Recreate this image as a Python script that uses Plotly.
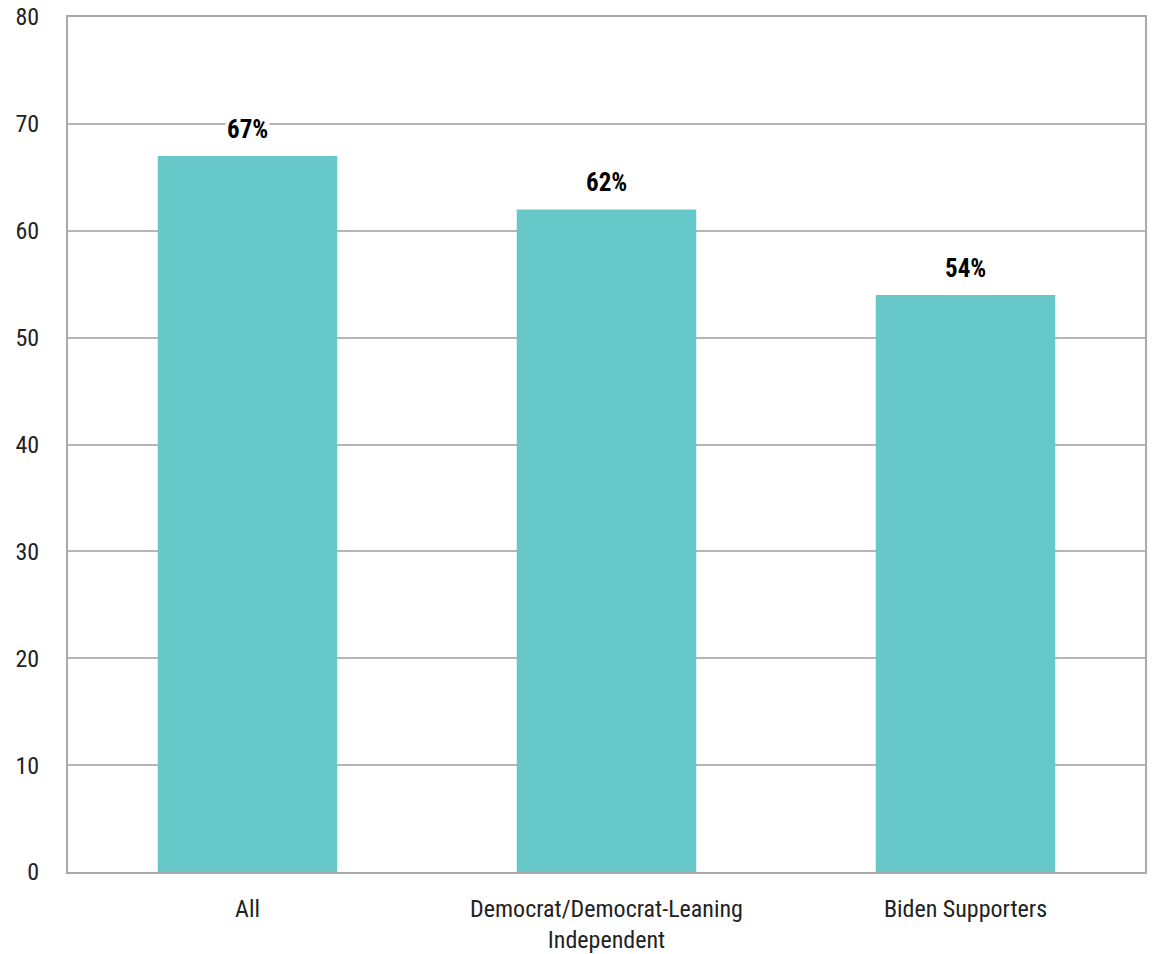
import plotly.graph_objects as go

categories = ["All", "Democrat/Democrat-Leaning<br>Independent", "Biden Supporters"]
values = [67, 62, 54]
labels = ["67%", "62%", "54%"]
y_ticks = [0, 10, 20, 30, 40, 50, 60, 70, 80]

FONT = "Roboto Condensed, Liberation Sans Narrow, Arial Narrow, Roboto, sans-serif"

fig = go.Figure()
fig.add_trace(go.Bar(
    x=categories, y=values, width=0.5,
    marker=dict(color="#66C8C8", line=dict(width=0)),
    hoverinfo="skip",
))

for c, v, t in zip(categories, values, labels):
    fig.add_annotation(
        x=c, y=v, text="<b>%s</b>" % t, showarrow=False,
        yanchor="bottom", yshift=10, bgcolor="white",
        font=dict(family=FONT, size=25, color="#000000"),
    )

fig.update_layout(
    width=1156, height=954,
    margin=dict(l=68, r=11, t=17, b=82, autoexpand=False),
    paper_bgcolor="white", plot_bgcolor="white",
    showlegend=False,
    bargap=0.5,
    font=dict(family=FONT, color="#222222"),
)
fig.update_xaxes(
    showline=True, linecolor="#aaaaaa", linewidth=2, mirror=True,
    showgrid=False, ticks="", automargin=False, ticklabelstandoff=14,
    tickfont=dict(size=24, family=FONT, color="#222222"),
)
fig.update_yaxes(
    range=[0, 80], tickvals=y_ticks, showline=True, linecolor="#aaaaaa",
    linewidth=2, mirror=True, showgrid=True, gridcolor="#b5b5b5", gridwidth=2,
    zeroline=False, ticks="", ticklabelstandoff=22, automargin=False,
    tickfont=dict(size=24, family=FONT, color="#222222"),
)

fig.write_html("out.html", config={"displayModeBar": False},
               post_script="document.body.style.margin='0';")
